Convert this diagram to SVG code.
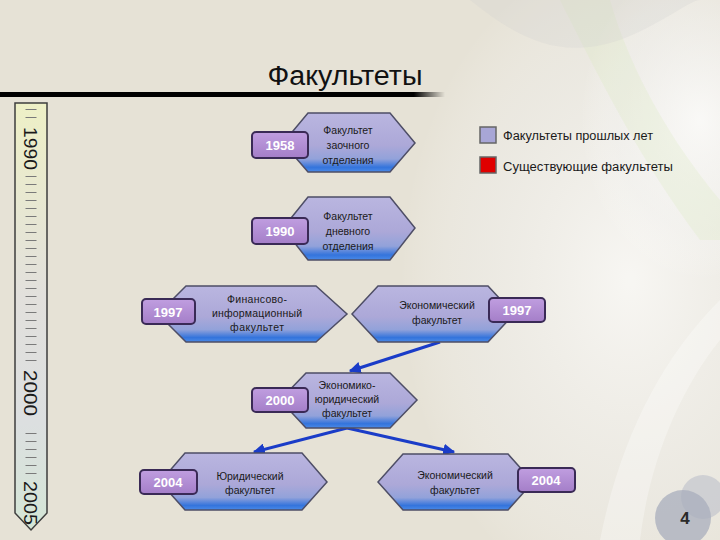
<svg xmlns="http://www.w3.org/2000/svg" width="720" height="540" viewBox="0 0 720 540">
<defs>
<linearGradient id="hexFill" x1="0" y1="0" x2="0" y2="1">
<stop offset="0" stop-color="#bab6e0"/>
<stop offset="0.55" stop-color="#aca8d8"/>
<stop offset="0.78" stop-color="#92a2da"/>
<stop offset="0.92" stop-color="#3474dc"/>
<stop offset="1" stop-color="#4a8ae8"/>
</linearGradient>
<linearGradient id="tagFill" x1="0" y1="0" x2="0" y2="1">
<stop offset="0" stop-color="#c09ee0"/>
<stop offset="1" stop-color="#a47ec8"/>
</linearGradient>
<linearGradient id="barFill" x1="0" y1="0" x2="0" y2="1">
<stop offset="0" stop-color="#eef0c6"/>
<stop offset="0.45" stop-color="#e2e0dc"/>
<stop offset="0.75" stop-color="#dcdfe0"/>
<stop offset="1" stop-color="#d4e6d6"/>
</linearGradient>
<radialGradient id="glow" cx="0.5" cy="0.5" r="0.5">
<stop offset="0" stop-color="#ffffff" stop-opacity="0.7"/>
<stop offset="0.7" stop-color="#f4f4f4" stop-opacity="0.35"/>
<stop offset="1" stop-color="#ffffff" stop-opacity="0"/>
</radialGradient>
<linearGradient id="lineFade" x1="0" y1="0" x2="1" y2="0">
<stop offset="0" stop-color="#000"/>
<stop offset="0.93" stop-color="#000"/>
<stop offset="1" stop-color="#000" stop-opacity="0"/>
</linearGradient>
<marker id="arr" viewBox="0 0 10 10" refX="9" refY="5" markerWidth="4" markerHeight="4" orient="auto" markerUnits="strokeWidth">
<path d="M0,0 L10,5 L0,10 Z" fill="#1a3cc8"/>
</marker>
<style>
.hex{fill:url(#hexFill);stroke:#4e4e66;stroke-width:1.5}
.tag{fill:url(#tagFill);stroke:#3a2a56;stroke-width:2}
.tagt{font-family:"Liberation Sans","DejaVu Sans",sans-serif;font-weight:bold;font-size:13px;fill:#ffffff;text-anchor:middle}
.nt{font-family:"Liberation Sans","DejaVu Sans",sans-serif;font-size:10.5px;fill:#1a1a1a;text-anchor:middle}
.lg{font-family:"Liberation Sans","DejaVu Sans",sans-serif;font-size:12.5px;fill:#1a1a1a}
.yr{font-family:"Liberation Sans","DejaVu Sans",sans-serif;font-size:18px;fill:#1a1a1a}
.conn{stroke:#1a3cc8;stroke-width:3;fill:none;marker-end:url(#arr)}
</style>
</defs>

<!-- background -->
<rect x="0" y="0" width="720" height="540" fill="#e6e2d6"/>
<g id="background">
<ellipse cx="630" cy="280" rx="230" ry="330" fill="url(#glow)"/>
<ellipse cx="700" cy="120" rx="120" ry="160" fill="url(#glow)"/>
<path d="M560,0 C600,80 640,160 700,240 L720,240 L720,200 C670,140 630,70 610,0 Z" fill="#d8e6b8" opacity="0.22"/>
<path d="M600,540 C620,440 660,360 720,300 L720,340 C680,390 650,460 640,540 Z" fill="#ffffff" opacity="0.3"/>
<path d="M470,0 C520,40 560,60 620,40 C660,25 690,0 700,0 Z" fill="#d0d0d0" opacity="0.25"/>
<circle cx="703" cy="497" r="22" fill="#b8bcc8" opacity="0.55"/>
<circle cx="683" cy="518" r="28" fill="#a8aebc" opacity="0.75"/>
</g>

<!-- title -->
<g id="title">
<text x="345" y="85" font-family="'Liberation Sans','DejaVu Sans',sans-serif" font-size="27" fill="#111" text-anchor="middle" textLength="155" lengthAdjust="spacingAndGlyphs">Факультеты</text>
<rect x="0" y="92" width="445" height="5" fill="url(#lineFade)"/>
</g>

<!-- timeline -->
<g id="timeline">
<path d="M15,103 H47 V513 L31,530 L15,513 Z" fill="url(#barFill)" stroke="#3e3e3e" stroke-width="1.5"/>
<g stroke="#7a7a7a" stroke-width="11" stroke-dasharray="1 7" fill="none">
<line x1="31" y1="109" x2="31" y2="124"/>
<line x1="31" y1="176" x2="31" y2="367"/>
<line x1="31" y1="433" x2="31" y2="478"/>
</g>
<text class="yr" x="24" y="127" transform="rotate(90 24 127)" textLength="43" lengthAdjust="spacingAndGlyphs">1990</text>
<text class="yr" x="24" y="370" transform="rotate(90 24 370)" textLength="46" lengthAdjust="spacingAndGlyphs">2000</text>
<text class="yr" x="24" y="481" transform="rotate(90 24 481)" textLength="44" lengthAdjust="spacingAndGlyphs">2005</text>
</g>

<!-- legend -->
<g id="legend">
<rect x="480" y="127" width="16" height="16" fill="#a8a6d6" stroke="#666" stroke-width="1.5"/>
<text class="lg" x="503" y="140" textLength="150" lengthAdjust="spacingAndGlyphs">Факультеты прошлых лет</text>
<rect x="480" y="157" width="16" height="16" fill="#e00000" stroke="#666" stroke-width="1.5"/>
<text class="lg" x="503" y="171" textLength="170" lengthAdjust="spacingAndGlyphs">Существующие факультеты</text>
</g>

<!-- connectors -->
<g id="connectors">
<path class="conn" d="M440,342 L350,371"/>
<path class="conn" d="M347,428 L254,452"/>
<path class="conn" d="M347,428 L454,452"/>
</g>

<!-- nodes -->
<g id="node-zaochn">
<polygon class="hex" points="283,143 308,113 390,113 415,143 390,172 308,172"/>
<rect class="tag" x="252" y="132" width="56" height="26" rx="4"/>
<text class="tagt" x="280" y="150">1958</text>
<text class="nt" x="348" y="134">Факультет</text>
<text class="nt" x="348" y="149">заочного</text>
<text class="nt" x="348" y="164">отделения</text>
</g>

<g id="node-dnevn">
<polygon class="hex" points="283,228 308,197 390,197 415,228 390,260 308,260"/>
<rect class="tag" x="252" y="218" width="56" height="26" rx="4"/>
<text class="tagt" x="280" y="236">1990</text>
<text class="nt" x="348" y="220">Факультет</text>
<text class="nt" x="348" y="235">дневного</text>
<text class="nt" x="348" y="250">отделения</text>
</g>

<g id="node-fin">
<polygon class="hex" points="158,314 186,286 316,286 347,314 316,342 186,342"/>
<rect class="tag" x="142" y="299" width="53" height="25" rx="4"/>
<text class="tagt" x="168" y="317">1997</text>
<text class="nt" x="257" y="303" textLength="60" lengthAdjust="spacing">Финансово-</text>
<text class="nt" x="257" y="317" textLength="90" lengthAdjust="spacing">информационный</text>
<text class="nt" x="257" y="331" textLength="54" lengthAdjust="spacing">факультет</text>
</g>

<g id="node-econ1997">
<polygon class="hex" points="352,314 378,286 488,286 514,314 488,342 378,342"/>
<rect class="tag" x="489" y="298" width="56" height="24" rx="4"/>
<text class="tagt" x="517" y="315">1997</text>
<text class="nt" x="437" y="309">Экономический</text>
<text class="nt" x="437" y="324">факультет</text>
</g>

<g id="node-econjur">
<polygon class="hex" points="280,400 306,373 390,373 417,400 390,428 306,428"/>
<rect class="tag" x="252" y="388" width="56" height="24" rx="4"/>
<text class="tagt" x="280" y="405">2000</text>
<text class="nt" x="347" y="389" font-size="9.5">Экономико-</text>
<text class="nt" x="347" y="403" font-size="9.5">юридический</text>
<text class="nt" x="347" y="417" font-size="9.5">факультет</text>
</g>

<g id="node-jur">
<polygon class="hex" points="160,482 185,453 302,453 327,482 302,510 185,510"/>
<rect class="tag" x="140" y="470" width="57" height="24" rx="4"/>
<text class="tagt" x="168" y="487">2004</text>
<text class="nt" x="250" y="480">Юридический</text>
<text class="nt" x="250" y="494">факультет</text>
</g>

<g id="node-econ2004">
<polygon class="hex" points="378,482 403,454 508,454 533,482 508,510 403,510"/>
<rect class="tag" x="518" y="468" width="57" height="24" rx="4"/>
<text class="tagt" x="546" y="485">2004</text>
<text class="nt" x="455" y="479">Экономический</text>
<text class="nt" x="455" y="494">факультет</text>
</g>

<g id="page-number">
<text x="685" y="524" font-family="'Liberation Sans','DejaVu Sans',sans-serif" font-weight="bold" font-size="17" fill="#2a2a2a" text-anchor="middle">4</text>
</g>
</svg>
